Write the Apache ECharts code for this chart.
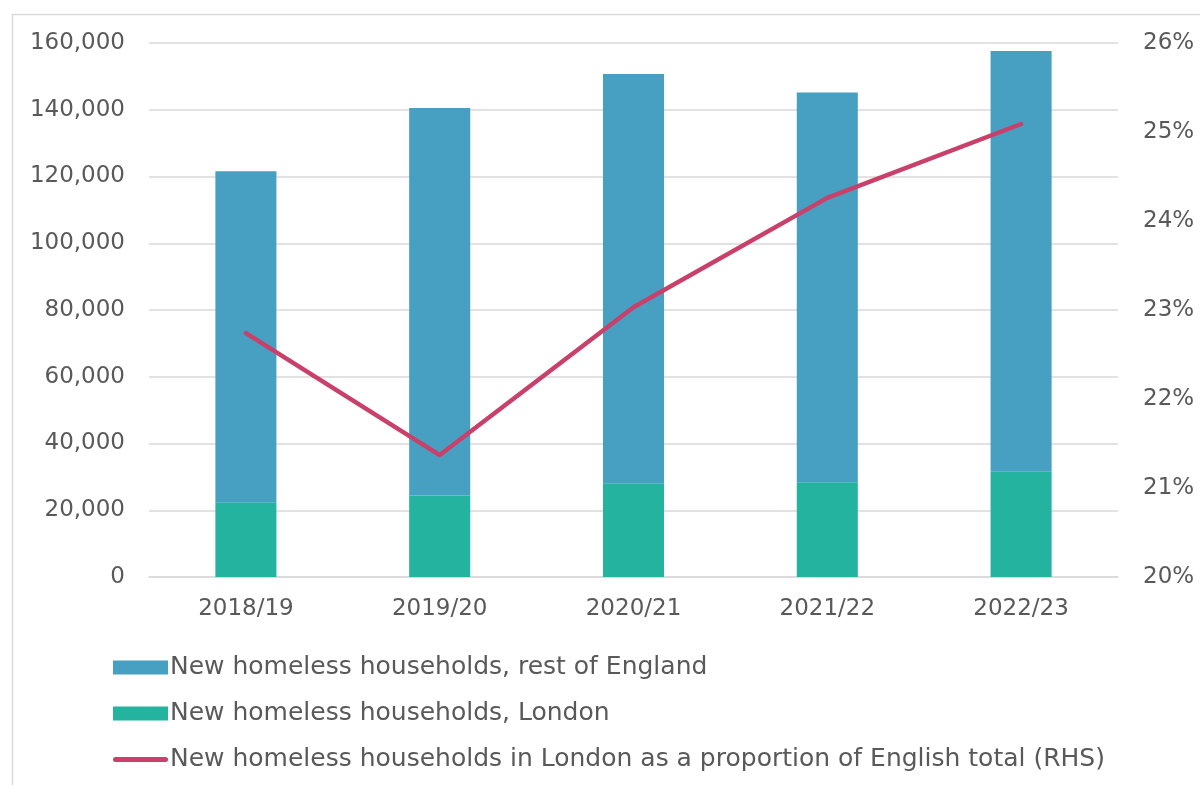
<!DOCTYPE html>
<html>
<head>
<meta charset="utf-8">
<script src="https://cdn.jsdelivr.net/npm/echarts@6/dist/echarts.min.js"></script>
<style>
  html, body { margin: 0; padding: 0; background: #ffffff; }
  #chart { width: 1200px; height: 785px; }
</style>
</head>
<body>
<div id="chart"></div>
<script>
// Financial years on the category axis
const years = ['2018/19', '2019/20', '2020/21', '2021/22', '2022/23'];

// New homeless households, London (left axis)
const londonHouseholds = [22400, 24400, 28100, 28400, 31500];

// New homeless households, rest of England (stacked above London)
const restOfEngland = [99200, 116100, 122600, 116800, 126100];

// London as a share of the English total, per cent (right axis)
const londonShare = [22.74, 21.37, 23.03, 24.26, 25.09];

// Axis tick settings
const leftTicks = { min: 0, max: 160000, interval: 20000 };
const rightTicks = { min: 20, max: 26, interval: 1 };

const seriesNames = [
  'New homeless households, rest of England',
  'New homeless households, London',
  'New homeless households in London as a proportion of English total (RHS)'
];

const textColor = '#595959';
const gridColor = '#d9d9d9';
const lineColor = '#c9416a';
const fontFamily = 'DejaVu Sans';

const chart = echarts.init(document.getElementById('chart'), null, { renderer: 'canvas' });

chart.setOption({
  animation: false,
  backgroundColor: '#ffffff',
  textStyle: { fontFamily: fontFamily, color: textColor },
  graphic: [{
    type: 'rect',
    left: 10, top: 12,
    shape: { width: 1300, height: 900 },
    style: { fill: 'none', stroke: gridColor, lineWidth: 1.5 },
    silent: true
  }],
  grid: { left: 149, right: 82, top: 43, bottom: 208, containLabel: false },
  legend: {
    orient: 'vertical',
    left: 108,
    top: 649,
    itemWidth: 55,
    itemHeight: 14,
    itemGap: 19,
    textStyle: { fontSize: 25, color: textColor, fontFamily: fontFamily, lineHeight: 27, padding: [0, 0, 0, -3] },
    data: [
      { name: seriesNames[0], icon: 'rect' },
      { name: seriesNames[1], icon: 'rect' },
      {
        name: seriesNames[2],
        icon: 'path://M2.5,0 L52.5,0 A2.5,2.5 0 0 1 52.5,5 L2.5,5 A2.5,2.5 0 0 1 2.5,0 Z',
        itemStyle: { color: lineColor }
      }
    ]
  },
  xAxis: {
    type: 'category',
    data: years,
    axisLine: { show: true, lineStyle: { color: gridColor, width: 1.5 } },
    axisTick: { show: false },
    axisLabel: { color: textColor, fontSize: 23, margin: 21, fontFamily: fontFamily }
  },
  yAxis: [
    {
      type: 'value',
      min: leftTicks.min, max: leftTicks.max, interval: leftTicks.interval,
      axisLine: { show: false },
      axisTick: { show: false },
      splitLine: { lineStyle: { color: gridColor, width: 1.5 } },
      axisLabel: {
        color: textColor, fontSize: 23, margin: 24, fontFamily: fontFamily,
        formatter: v => v.toLocaleString('en-GB')
      }
    },
    {
      type: 'value',
      position: 'right',
      min: rightTicks.min, max: rightTicks.max, interval: rightTicks.interval,
      axisLine: { show: false },
      axisTick: { show: false },
      splitLine: { show: false },
      axisLabel: {
        color: textColor, fontSize: 23, margin: 25, fontFamily: fontFamily,
        formatter: v => v + '%'
      }
    }
  ],
  series: [
    {
      name: seriesNames[1],
      type: 'bar',
      stack: 'households',
      barWidth: '31.5%',
      itemStyle: { color: '#23b39e' },
      data: londonHouseholds,
      z: 2
    },
    {
      name: seriesNames[0],
      type: 'bar',
      stack: 'households',
      barWidth: '31.5%',
      itemStyle: { color: '#47a0c2' },
      data: restOfEngland,
      z: 2
    },
    {
      name: seriesNames[2],
      type: 'line',
      yAxisIndex: 1,
      symbol: 'none',
      lineStyle: { color: lineColor, width: 4.5, cap: 'round', join: 'round' },
      itemStyle: { color: lineColor },
      data: londonShare,
      z: 5
    }
  ]
});
</script>
</body>
</html>
